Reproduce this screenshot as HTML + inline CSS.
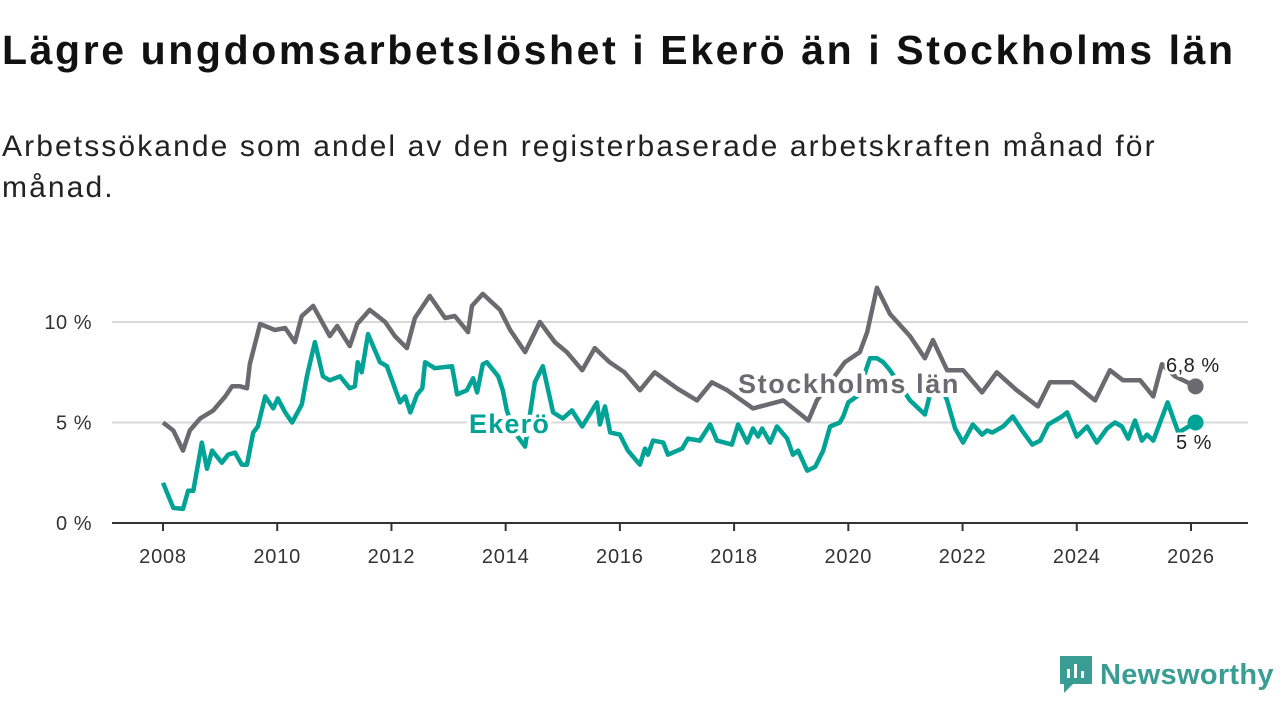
<!DOCTYPE html>
<html><head><meta charset="utf-8">
<style>
body{margin:0;background:#fff;width:1280px;height:720px;overflow:hidden;font-family:"Liberation Sans",sans-serif;}
h1{position:absolute;left:2px;top:27px;margin:0;font-size:41px;font-weight:bold;color:#111;letter-spacing:2.6px;white-space:nowrap}
p.sub{position:absolute;left:2px;top:126px;margin:0;font-size:30px;line-height:41px;color:#222;width:1200px;letter-spacing:2.1px}
svg{position:absolute;left:0;top:0}
</style></head><body>
<h1>Lägre ungdomsarbetslöshet i Ekerö än i Stockholms län</h1>
<p class="sub">Arbetssökande som andel av den registerbaserade arbetskraften månad för månad.</p>
<svg id="chart" width="1280" height="720"></svg>
<div style="position:absolute;left:1058px;top:654px;display:flex;align-items:center">
<svg width="36" height="42" style="position:static"><path d="M2 2h32v28h-19l-9 9v-9h-4z" fill="#3a9d93"/><rect x="9" y="15" width="3" height="9" fill="#fff"/><rect x="16" y="10" width="3" height="14" fill="#fff"/><rect x="23" y="17" width="3" height="7" fill="#fff"/></svg>
<span style="font-size:29px;color:#3a9d93;margin-left:6px;font-weight:bold;letter-spacing:0.3px">Newsworthy</span></div>
<script>
const yTicks=[0,5,10];
const yTickLabels=["0 %","5 %","10 %"];
const xTicks=[2008,2010,2012,2014,2016,2018,2020,2022,2024,2026];
const sthlmT=[2008.00,2008.18,2008.35,2008.47,2008.65,2008.88,2009.09,2009.21,2009.35,2009.47,2009.52,2009.70,2009.96,2010.14,2010.31,2010.43,2010.63,2010.92,2011.05,2011.27,2011.40,2011.62,2011.89,2012.06,2012.27,2012.41,2012.67,2012.94,2013.11,2013.34,2013.41,2013.60,2013.90,2014.08,2014.34,2014.60,2014.86,2015.07,2015.34,2015.56,2015.82,2016.08,2016.35,2016.61,2017.00,2017.35,2017.61,2017.88,2018.33,2018.86,2019.30,2019.45,2019.68,2019.94,2020.20,2020.33,2020.50,2020.73,2021.08,2021.34,2021.48,2021.73,2022.01,2022.34,2022.60,2022.95,2023.32,2023.53,2023.93,2024.32,2024.58,2024.81,2025.11,2025.34,2025.49,2025.72,2026.08];
const sthlmV=[5.0,4.6,3.6,4.6,5.2,5.6,6.3,6.8,6.8,6.7,7.9,9.9,9.6,9.7,9.0,10.3,10.8,9.3,9.8,8.8,9.9,10.6,10.0,9.3,8.7,10.2,11.3,10.2,10.3,9.5,10.8,11.4,10.6,9.6,8.5,10.0,9.0,8.5,7.6,8.7,8.0,7.5,6.6,7.5,6.7,6.1,7.0,6.6,5.7,6.1,5.1,6.1,7.0,8.0,8.5,9.5,11.7,10.4,9.3,8.2,9.1,7.6,7.6,6.5,7.5,6.6,5.8,7.0,7.0,6.1,7.6,7.1,7.1,6.3,7.9,7.3,6.8];
const ekeroT=[2008.00,2008.18,2008.35,2008.44,2008.53,2008.68,2008.77,2008.86,2009.03,2009.14,2009.26,2009.38,2009.47,2009.58,2009.66,2009.79,2009.93,2010.01,2010.14,2010.26,2010.43,2010.52,2010.66,2010.80,2010.92,2011.10,2011.27,2011.36,2011.41,2011.48,2011.59,2011.80,2011.92,2012.15,2012.24,2012.33,2012.45,2012.54,2012.59,2012.76,2013.06,2013.15,2013.32,2013.43,2013.50,2013.60,2013.67,2013.87,2013.95,2014.02,2014.16,2014.34,2014.51,2014.65,2014.83,2015.00,2015.16,2015.34,2015.60,2015.65,2015.74,2015.83,2016.00,2016.14,2016.35,2016.44,2016.49,2016.58,2016.76,2016.84,2017.09,2017.19,2017.40,2017.58,2017.70,2017.96,2018.07,2018.23,2018.33,2018.42,2018.49,2018.63,2018.75,2018.93,2019.03,2019.12,2019.28,2019.42,2019.56,2019.68,2019.85,2019.91,2020.00,2020.15,2020.38,2020.50,2020.61,2020.73,2021.08,2021.34,2021.43,2021.55,2021.73,2021.87,2022.01,2022.18,2022.34,2022.43,2022.52,2022.71,2022.88,2023.04,2023.22,2023.36,2023.50,2023.74,2023.83,2024.00,2024.18,2024.35,2024.53,2024.67,2024.79,2024.90,2025.02,2025.14,2025.23,2025.34,2025.59,2025.69,2025.78,2026.08];
const ekeroV=[2.0,0.75,0.7,1.6,1.6,4.0,2.7,3.6,3.0,3.4,3.5,2.9,2.9,4.5,4.8,6.3,5.7,6.2,5.5,5.0,5.9,7.3,9.0,7.3,7.1,7.3,6.7,6.8,8.0,7.5,9.4,8.0,7.8,6.0,6.3,5.5,6.4,6.7,8.0,7.7,7.8,6.4,6.6,7.2,6.5,7.9,8.0,7.3,6.6,5.6,4.5,3.8,7.0,7.8,5.5,5.2,5.6,4.8,6.0,4.9,5.8,4.5,4.4,3.6,2.9,3.7,3.4,4.1,4.0,3.4,3.7,4.2,4.1,4.9,4.1,3.9,4.9,4.0,4.7,4.3,4.7,4.0,4.8,4.2,3.4,3.6,2.6,2.8,3.6,4.8,5.0,5.3,6.0,6.3,8.2,8.2,8.0,7.6,6.1,5.4,6.4,7.3,6.1,4.7,4.0,4.9,4.4,4.6,4.5,4.8,5.3,4.6,3.9,4.1,4.9,5.3,5.5,4.3,4.8,4.0,4.7,5.0,4.8,4.2,5.1,4.1,4.4,4.1,6.0,5.2,4.5,5.0];

const NS='http://www.w3.org/2000/svg';
const svg=document.getElementById('chart');
const X0=112,X1=1248;
const xs=v=>163+(v-2008)*(1191-163)/18;
const ys=v=>523-v*(523-322)/10;
function mk(t,a){const e=document.createElementNS(NS,t);for(const k in a)e.setAttribute(k,a[k]);svg.appendChild(e);return e;}
yTicks.forEach((t,i)=>{
  if(t>0){const g=mk('line',{x1:X0,x2:X1,y1:ys(t),y2:ys(t),stroke:'#d9d9d9','stroke-width':2});
  
  }
  const l=mk('text',{x:92,y:ys(t)+7,'text-anchor':'end','font-size':20,fill:'#333','letter-spacing':0.5});
  l.textContent=yTickLabels[i];
  
  
});
const ax=mk('line',{x1:X0,x2:X1,y1:ys(0),y2:ys(0),stroke:'#333','stroke-width':2});


xTicks.forEach(t=>{
  const tk=mk('line',{x1:xs(t),x2:xs(t),y1:ys(0),y2:ys(0)+8,stroke:'#333','stroke-width':2});
  
  
  const l=mk('text',{x:xs(t),y:563,'text-anchor':'middle','font-size':20,fill:'#333','letter-spacing':0.8});
  l.textContent=t;
  
  
});
function line(T,V,col,name){
  const d=T.map((t,i)=>(i?'L':'M')+xs(t).toFixed(1)+' '+ys(V[i]).toFixed(1)).join(' ');
  const p=mk('path',{d:d,fill:'none',stroke:col,'stroke-width':4.5,'stroke-linejoin':'round'});
  
  
  const c=mk('circle',{cx:xs(T[T.length-1]),cy:ys(V[V.length-1]),r:8,fill:col});
  
  
}
line(sthlmT,sthlmV,'#6b6a70','stockholm-line');
line(ekeroT,ekeroV,'#00a396','ekero-line');
function lab(x,y,txt,col,size,bold,name,ls){
  const t=mk('text',{x:x,y:y,'font-size':size,fill:col,'font-weight':bold?'bold':'normal',stroke:'#fff','stroke-width':bold?8:5,'paint-order':'stroke','stroke-linejoin':'round','letter-spacing':ls});
  t.textContent=txt;
  
  
}
lab(738,393,'Stockholms län','#6b6a70',27,true,'stockholm-label',1.6);
lab(469,433,'Ekerö','#00a396',27,true,'ekero-label',1.2);
lab(1166,372,'6,8 %','#222',20,false,'stockholm-end-value',0.5);
lab(1176,449,'5 %','#222',20,false,'ekero-end-value',0.5);
</script>
</body></html>
